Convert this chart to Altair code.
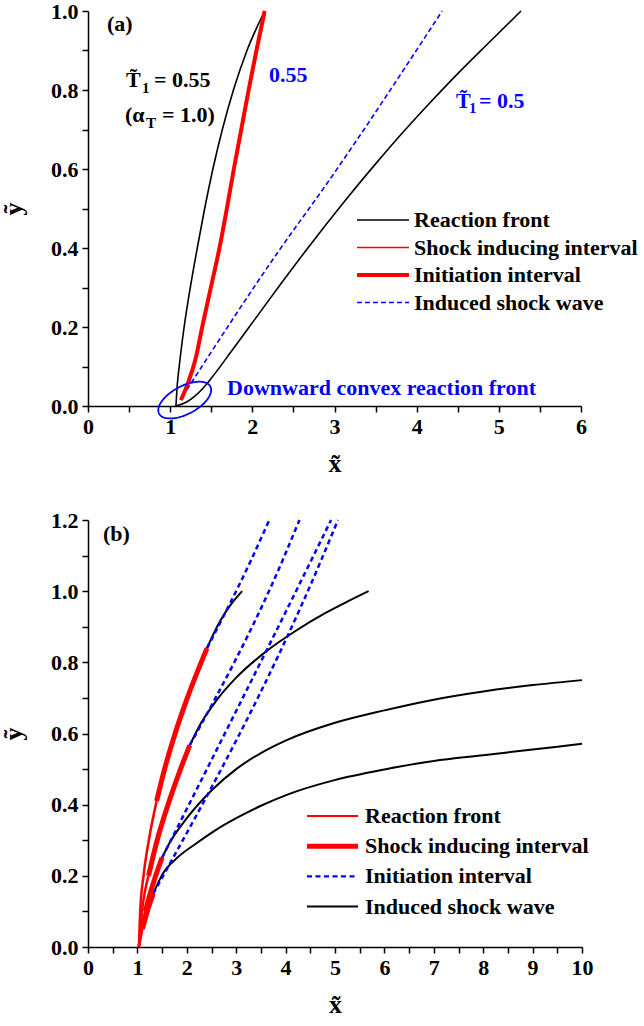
import numpy as np
import pandas as pd
import altair as alt

FONT = "Liberation Serif"
RED = "#ff0000"
BLUE = "#0000ff"
BLACK = "#000000"

# ---------------- Panel (a) data ----------------
A_FRONT055_X = [1.07, 1.085, 1.11, 1.17, 1.245, 1.33, 1.42, 1.52, 1.635, 1.77, 1.935, 2.15]
A_FRONT055_Y = [0.0, 0.05, 0.1, 0.2, 0.3, 0.4, 0.5, 0.6, 0.7, 0.8, 0.9, 1.0]
A_INIT055_X = [1.13, 1.22, 1.31, 1.39, 1.495, 1.60, 1.69, 1.775, 1.865, 1.955, 2.05, 2.15]
A_INIT055_Y = [0.015, 0.06, 0.12, 0.2, 0.3, 0.4, 0.5, 0.6, 0.7, 0.8, 0.9, 1.0]
A_SHOCK055_X = [1.15, 2.33, 2.88, 4.31]
A_SHOCK055_Y = [0.024, 0.395, 0.555, 1.0]
A_FRONT05_X = [1.07, 1.20, 1.30, 1.40, 1.50, 1.75, 2.05, 2.35, 2.65, 2.90, 3.18, 3.50, 3.79, 4.10, 4.40, 4.85, 5.27]
A_FRONT05_Y = [0.0, 0.01, 0.025, 0.045, 0.07, 0.14, 0.225, 0.31, 0.393, 0.46, 0.533, 0.613, 0.683, 0.754, 0.82, 0.914, 1.0]

# ---------------- Panel (b) data ----------------
B1_RF_X = [1.03, 1.056, 1.124, 1.231, 1.389]
B1_RF_Y = [0.0, 0.1, 0.2, 0.3, 0.41]
B1_SI_X = [1.389, 1.55, 1.764, 2.011, 2.41]
B1_SI_Y = [0.41, 0.5, 0.6, 0.7, 0.84]
B1_SW_X = [2.41, 2.54, 2.69, 2.88, 3.12]
B1_SW_Y = [0.84, 0.88, 0.92, 0.96, 1.0]
B1_IN_X = [2.41, 3.30, 3.67]
B1_IN_Y = [0.84, 1.087, 1.2]

B2_RF_X = [1.03, 1.094, 1.225]
B2_RF_Y = [0.0, 0.1, 0.2]
B2_SI_X = [1.225, 1.40, 1.62, 1.873, 2.06]
B2_SI_Y = [0.2, 0.3, 0.4, 0.5, 0.567]
B2_SW_X = [2.06, 2.3, 2.6, 3.0, 3.6, 4.2, 4.8, 5.3, 5.68]
B2_SW_Y = [0.567, 0.632, 0.693, 0.757, 0.83, 0.888, 0.938, 0.974, 1.0]
B2_IN_X = [2.06, 3.94, 4.28]
B2_IN_Y = [0.567, 1.087, 1.2]

B3_RF_X = [1.03, 1.079, 1.16]
B3_RF_Y = [0.0, 0.05, 0.1]
B3_SI_X = [1.16, 1.258, 1.37, 1.50]
B3_SI_Y = [0.1, 0.15, 0.2, 0.251]
B3_SW_X = [1.50, 1.65, 2.0, 2.5, 3.0, 3.5, 4.0, 5.0, 6.0, 7.0, 8.0, 9.0, 10.0]
B3_SW_Y = [0.251, 0.292, 0.362, 0.44, 0.50, 0.545, 0.58, 0.63, 0.665, 0.695, 0.718, 0.736, 0.75]
B3_IN_X = [1.50, 4.52, 4.92]
B3_IN_Y = [0.251, 1.087, 1.2]

B4_RF_X = [1.03, 1.10]
B4_RF_Y = [0.0, 0.05]
B4_SI_X = [1.10, 1.20, 1.32]
B4_SI_Y = [0.05, 0.1, 0.15]
B4_SW_X = [1.32, 1.52, 1.8, 2.19, 2.6, 3.0, 3.5, 4.01, 4.99, 6.0, 7.0, 8.0, 9.0, 10.0]
B4_SW_Y = [0.15, 0.207, 0.25, 0.291, 0.33, 0.362, 0.397, 0.427, 0.469, 0.499, 0.523, 0.539, 0.555, 0.571]
B4_IN_X = [1.32, 4.72, 5.06]
B4_IN_Y = [0.15, 1.087, 1.2]

A_LEGEND = ["Reaction front", "Shock inducing interval", "Initiation interval", "Induced shock wave"]
B_LEGEND = ["Reaction front", "Shock inducing interval", "Initiation interval", "Induced shock wave"]

# ellipse annotation (centre in data units, radii in pixels)
ELL_CX, ELL_CY = 1.177, 0.015
ELL_A_PX, ELL_B_PX, ELL_ANGLE = 29, 14, 28

A_W, A_H, A_XMAX, A_YMAX = 493, 395, 6, 1.0
B_W, B_H, B_XMAX, B_YMAX = 494, 427, 10, 1.2


def seg_df(segs):
    rows = []
    for sid, xs, ys in segs:
        for i, (x, y) in enumerate(zip(xs, ys)):
            rows.append({"seg": sid, "i": i, "x": float(x), "y": float(y)})
    return pd.DataFrame(rows)


def encodings(xmax, ymax):
    xvals = [float(v) for v in np.round(np.arange(0, xmax + 0.001, 0.5), 2)]
    yvals = [float(v) for v in np.round(np.arange(0, ymax + 0.001, 0.1), 2)]
    xaxis = alt.Axis(values=xvals,
                     labelExpr="datum.value % 1 == 0 ? format(datum.value, 'd') : ''",
                     title="x\u0303", labelFlush=False, labelOverlap=False, titlePadding=13)
    yaxis = alt.Axis(values=yvals,
                     labelExpr="round(datum.value*10) % 2 == 0 ? format(datum.value, '.1f') : ''",
                     title="y\u0303", labelOverlap=False, titlePadding=24)
    xs = alt.Scale(domain=[0, xmax], nice=False, zero=False)
    ys = alt.Scale(domain=[0, ymax], nice=False, zero=False)
    return (alt.X("x:Q", scale=xs, axis=xaxis), alt.Y("y:Q", scale=ys, axis=yaxis))


def line_layer(df, enc, color, width, dash=None, interp="monotone", clip=False):
    kw = dict(color=color, strokeWidth=width, interpolate=interp, clip=clip)
    if dash:
        kw["strokeDash"] = dash
    return alt.Chart(df).mark_line(**kw).encode(x=enc[0], y=enc[1], detail="seg:N", order="i:Q")


def label(text, x, y, size=22, color=BLACK, align="left", baseline="alphabetic"):
    return alt.Chart(pd.DataFrame({"t": [text]})).mark_text(
        font=FONT, fontWeight="bold", fontSize=size, color=color, align=align, baseline=baseline
    ).encode(text="t:N", x=alt.value(x), y=alt.value(y))


def legend_layers(names, styles, x1, x2, xt, y0, dy):
    layers = []
    for k, (name, (color, width, dash)) in enumerate(zip(names, styles)):
        y = y0 + k * dy
        kw = dict(color=color, strokeWidth=width)
        if dash:
            kw["strokeDash"] = dash
        layers.append(alt.Chart(pd.DataFrame({"k": [k]})).mark_rule(**kw).encode(
            x=alt.value(x1), x2=alt.value(x2), y=alt.value(y)))
        layers.append(label(name, xt, y, baseline="middle"))
    return layers


# ---------------- Panel (a) ----------------
encA = encodings(A_XMAX, A_YMAX)
a_black = seg_df([("f055", A_FRONT055_X, A_FRONT055_Y), ("f05", A_FRONT05_X, A_FRONT05_Y)])
a_red = seg_df([("i055", A_INIT055_X, A_INIT055_Y)])
a_blue = seg_df([("s055", A_SHOCK055_X, A_SHOCK055_Y)])

t = np.linspace(0, 2 * np.pi, 121)
th = np.radians(ELL_ANGLE)
ell_x = ELL_CX + (ELL_A_PX * np.cos(t) * np.cos(th) - ELL_B_PX * np.sin(t) * np.sin(th)) / (A_W / A_XMAX)
ell_y = ELL_CY + (ELL_A_PX * np.cos(t) * np.sin(th) + ELL_B_PX * np.sin(t) * np.cos(th)) / (A_H / A_YMAX)
a_ell = seg_df([("ell", ell_x, ell_y)])

a_layers = [
    line_layer(a_black, encA, BLACK, 1.6),
    line_layer(a_blue, encA, BLUE, 1.6, dash=[5, 3]),
    line_layer(a_red, encA, RED, 4),
    line_layer(a_ell, encA, BLUE, 1.8, interp="linear"),
    label("(a)", 19, 20),
    label("T\u0303", 38, 76),
    label("1", 54, 82, size=15),
    label("= 0.55", 66, 76),
    label("(\u03b1", 37, 111),
    label("T", 58, 117, size=15),
    label("= 1.0)", 74, 111),
    label("0.55", 181, 71, color=BLUE),
    label("T\u0303", 368, 97, color=BLUE),
    label("1", 381, 102, size=15, color=BLUE),
    label("= 0.5", 391, 97, color=BLUE),
    label("Downward convex reaction front", 139, 384, color=BLUE),
]
a_layers += legend_layers(
    A_LEGEND,
    [(BLACK, 1.6, None), (RED, 1.6, None), (RED, 4, None), (BLUE, 1.6, [5, 3])],
    269, 321, 326, 209, 27.5)
chartA = alt.layer(*a_layers).properties(width=A_W, height=A_H)

# ---------------- Panel (b) ----------------
encB = encodings(B_XMAX, B_YMAX)
b_rf = seg_df([("1", B1_RF_X, B1_RF_Y), ("2", B2_RF_X, B2_RF_Y), ("3", B3_RF_X, B3_RF_Y), ("4", B4_RF_X, B4_RF_Y)])
b_si = seg_df([("1", B1_SI_X, B1_SI_Y), ("2", B2_SI_X, B2_SI_Y), ("3", B3_SI_X, B3_SI_Y), ("4", B4_SI_X, B4_SI_Y)])
b_sw = seg_df([("1", B1_SW_X, B1_SW_Y), ("2", B2_SW_X, B2_SW_Y), ("3", B3_SW_X, B3_SW_Y), ("4", B4_SW_X, B4_SW_Y)])
b_in = seg_df([("1", B1_IN_X, B1_IN_Y), ("2", B2_IN_X, B2_IN_Y), ("3", B3_IN_X, B3_IN_Y), ("4", B4_IN_X, B4_IN_Y)])

b_layers = [
    line_layer(b_sw, encB, BLACK, 2),
    line_layer(b_in, encB, BLUE, 2.5, dash=[5, 3.5]),
    line_layer(b_rf, encB, RED, 2.5),
    line_layer(b_si, encB, RED, 5),
    label("(b)", 15, 21),
]
b_layers += legend_layers(
    B_LEGEND,
    [(RED, 2.2, None), (RED, 5, None), (BLUE, 2.2, [5, 3.5]), (BLACK, 2, None)],
    219, 270, 277, 296, 30.2)
chartB = alt.layer(*b_layers).properties(width=B_W, height=B_H)

chart = alt.vconcat(chartA, chartB, spacing=114, bounds="flush").properties(
    padding={"left": 0, "top": 0, "right": 2, "bottom": 2}, background="white"
).configure_axis(
    domainColor=BLACK, domainWidth=1.5, tickColor=BLACK, tickWidth=1.5, tickSize=6,
    labelFont=FONT, labelFontWeight="bold", labelFontSize=22, labelColor=BLACK, labelPadding=4,
    titleFont=FONT, titleFontWeight="bold", titleFontSize=26, titleColor=BLACK, grid=False,
).configure_view(stroke=None)

chart.save("out.html", embed_options={"renderer": "svg", "actions": False})
